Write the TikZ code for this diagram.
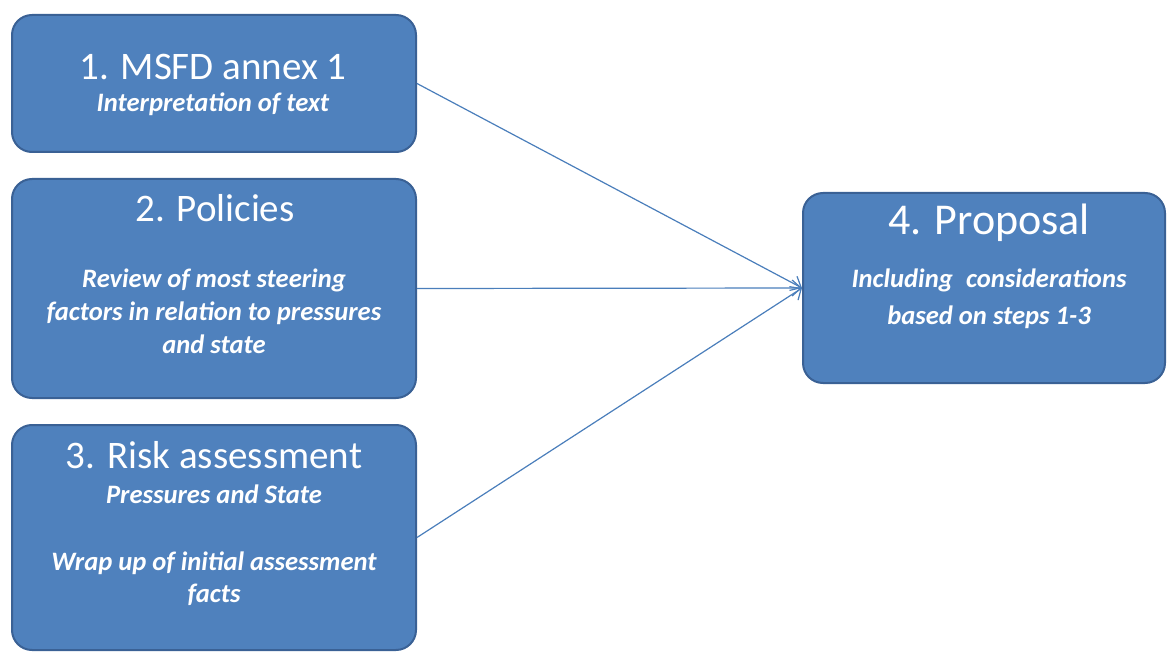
\documentclass[tikz,border=0pt]{standalone}
\usepackage{fontspec}
\setmainfont{Carlito}
\usetikzlibrary{arrows.meta}
\definecolor{boxblue}{HTML}{4F81BD}
\definecolor{boxedge}{HTML}{3A6195}
\definecolor{linkblue}{HTML}{4A7EBB}
\tikzset{
  stagebox/.style={draw=boxedge, line width=2pt, fill=boxblue, rounded corners=20pt},
  headtext/.style={text=white, anchor=base, font=\fontsize{39}{47}\selectfont},
  subtext/.style={text=white, anchor=base, align=center, font=\fontsize{26.6}{33}\selectfont\bfseries\itshape},
  link/.style={draw=linkblue, line width=1.2pt, ->}
}
\begin{document}
\begin{tikzpicture}[x=1pt, y=-1pt, >={Straight Barb[length=9pt,width=16pt]}]
    \useasboundingbox (0,0) rectangle (1167,652);
    \node[stagebox, minimum width=404pt, minimum height=137pt](b1) at (214,83.5) {};
    \node[stagebox, minimum width=404pt, minimum height=219pt](b2) at (214,288.5) {};
    \node[stagebox, minimum width=404pt, minimum height=225pt](b3) at (214,537.5) {};
    \node[stagebox, minimum width=362pt, minimum height=190pt](b4) at (984,288) {};
    \node[headtext](h1) at (213,80) {1. MSFD annex 1};
    \node[subtext](s1) at (213,112) {Interpretation of text};
    \node[headtext](h2) at (215,222) {2. Policies};
    \node[subtext](s2) at (214,353) {Review of most steering\\factors in relation to pressures\\and state};
    \node[headtext](h3) at (214,468) {3. Risk assessment};
    \node[subtext](s3) at (214,503) {Pressures and State};
    \node[subtext, font=\fontsize{26.6}{32}\selectfont\bfseries\itshape](s4) at (214,602) {Wrap up of initial assessment\\facts};
    \node[headtext, font=\fontsize{44}{52}\selectfont](h4) at (989,235) {4. Proposal};
    \node[subtext, font=\fontsize{26.6}{37}\selectfont\bfseries\itshape](s5) at (989,324) {Including\hspace{0.5em}considerations\\based on steps 1-3};
    \draw[link] (b1.east) -- (b4.west);
    \draw[link] (b2.east) -- (b4.west);
    \draw[link] (b3.east) -- (b4.west);
\end{tikzpicture}
\end{document}
